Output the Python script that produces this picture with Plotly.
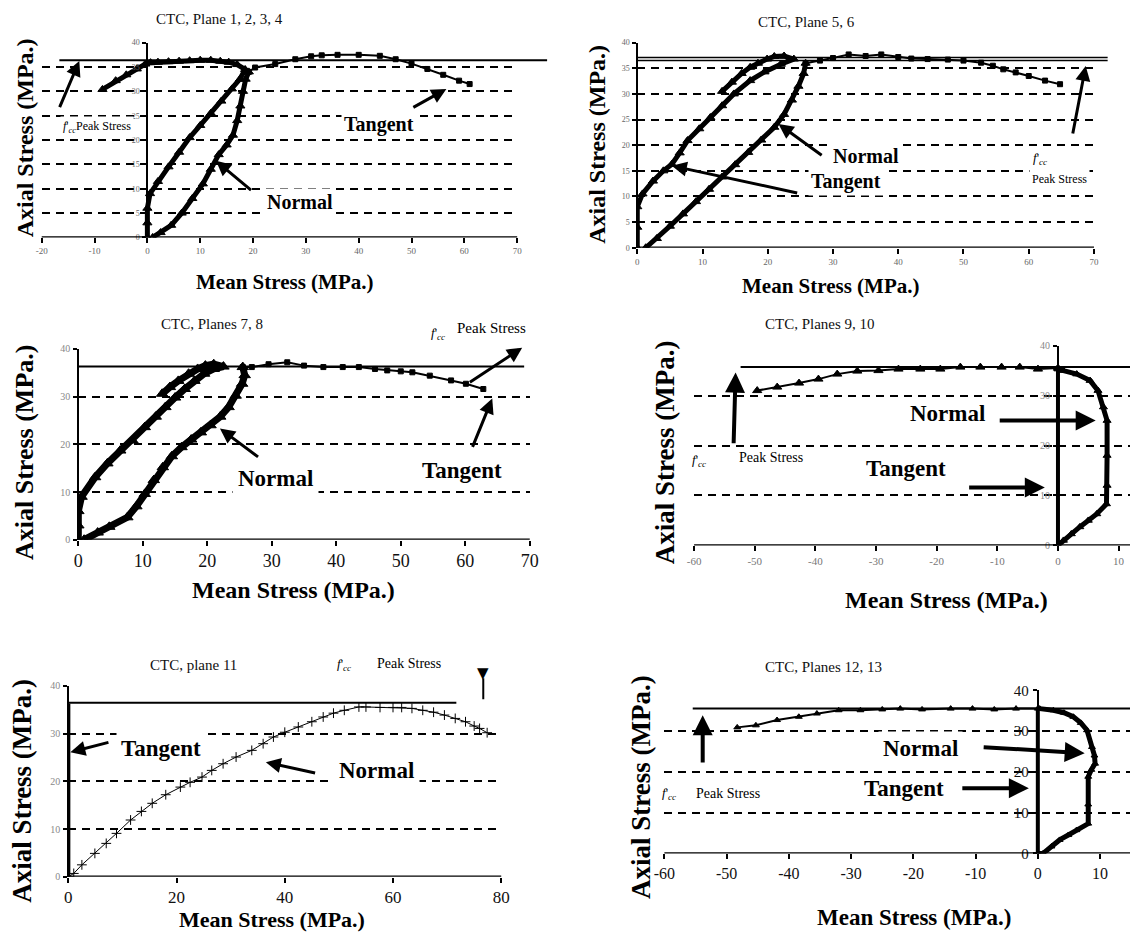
import plotly.graph_objects as go

# figure fills the window (body margin removed); photographed positions follow
# render = K * figure_px + B, so reference pixels are mapped back through it
WF, HF = 1139, 938
KX, BX = 0.985, 8.5
KY, BY = 0.984, 7.0
SERIF = "Liberation Serif"

# ---------------- data ----------------
peak = [36.4, 36.8, 36.3, 35.7, 36.5, 35.5]

# Panel 1 - CTC, Plane 1, 2, 3, 4
p1_tan_x = [0, 0, 0, 0.5, 2, 4, 6, 8, 10, 12, 14, 16, 17.5, 18.5, 17, 15.4, 13.8, 12, 10, 8, 6, 4, 2, 0.6, -0.4, -2, -4, -6, -8.5]
p1_tan_y = [0, 3, 6, 9, 11.5, 14.5, 17.5, 20.5, 23, 25.5, 28, 30.5, 32.5, 34.5, 35.5, 36, 36.2, 36.4, 36.4, 36.3, 36.2, 36.1, 36, 35.9, 35.6, 34.6, 33.4, 32.2, 30.4]
p1_nor_x = [1, 2.5, 4.5, 6.5, 8.5, 10.5, 12, 13.5, 15, 16.2, 17, 17.6, 18.1, 18.6, 19.2]
p1_nor_y = [0, 1, 2.5, 5, 8, 11, 14, 17, 19, 21, 24, 27, 30, 32.5, 34]
p1_post_x = [19.2, 20.4, 24.2, 28, 31, 33, 36, 40, 44, 47, 50, 53, 56, 59, 61]
p1_post_y = [34, 34.9, 35.6, 36.6, 37.2, 37.4, 37.5, 37.5, 37.3, 36.6, 35.7, 34.6, 33.4, 32.2, 31.5]

# Panel 2 - CTC, Plane 5, 6
p2_tan_x = [0, 0, 0, 0.8, 2.4, 4, 5.3, 6.5, 7.7, 9.5, 11.2, 13, 14.8, 17.3, 19.5, 22, 24, 22.5, 21, 19.9, 18.5, 17.3, 16, 14.5, 13]
p2_tan_y = [0, 4, 8, 10.5, 13, 15, 16.3, 18.5, 20.9, 23.2, 25.4, 27.7, 30, 32.6, 34.3, 35.8, 36.8, 37.4, 37.3, 36.8, 36, 35.2, 34, 32.3, 30.5]
p2_nor_x = [1.3, 3, 5, 7, 9, 11, 13, 15, 17, 19, 21, 22.5, 23.7, 24.7, 25.5, 25.8]
p2_nor_y = [0, 1.8, 4.2, 6.6, 9, 11.4, 13.8, 16.2, 18.6, 21, 23.5, 26, 28.8, 31.5, 34, 36]
p2_post_x = [25.8, 28, 30, 32.4, 35, 37.4, 40, 42, 44.5, 47.6, 50, 52.7, 54.5, 56.1, 58, 60, 62.5, 64.8]
p2_post_y = [36, 36.5, 37, 37.7, 37.4, 37.7, 37.2, 36.9, 36.8, 36.7, 36.5, 36.1, 35.5, 34.8, 34.2, 33.5, 32.6, 31.9]

# Panel 3 - CTC, Planes 7, 8
p3_tan_x = [0, 0, 0, 0.5, 2.6, 4.5, 6.5, 8.4, 10.3, 12, 13.5, 15, 16.5, 18, 19.5, 21, 22.5, 21, 19.7, 18.5, 17.1, 15.5, 14.2, 13]
p3_tan_y = [0, 3, 6, 9, 13.1, 16, 18.7, 20.8, 23.6, 25.8, 27.8, 29.8, 31.6, 33.3, 34.8, 35.8, 36.3, 36.8, 36.5, 35.8, 34.8, 33.3, 32, 30.6]
p3_nor_x = [0.9, 3, 4.8, 7.6, 9, 10.3, 11.7, 13.1, 14.5, 16, 17.5, 19, 20.5, 22, 23.3, 24.4, 25.4, 25.8, 25.5]
p3_nor_y = [0, 1.5, 2.7, 4.7, 7, 9.6, 12.5, 15.2, 17.5, 19.4, 21, 22.5, 24, 25.8, 27.8, 30.2, 32.7, 34.5, 36.2]
p3_post_x = [25.5, 26.9, 29.5, 32.4, 35, 38, 41, 43.5, 46, 47.9, 50, 51.8, 54.5, 57.8, 60.1, 62.8]
p3_post_y = [36.2, 36.2, 36.8, 37.2, 36.5, 36.2, 36.2, 36.2, 35.8, 35.5, 35.3, 35.1, 34.4, 33.4, 32.7, 31.6]

# Panel 4 - CTC, Planes 9, 10
p4_axis_x = [0, 0]
p4_axis_y = [0, 35.5]
p4_tan_x = [0, -3.3, -6.3, -9.3, -12.8, -16.1, -19.4, -22.7, -26.3, -29.6, -33.1, -36.4, -39.5, -42.7, -46.3, -49.6]
p4_tan_y = [35.5, 35.3, 35.7, 35.7, 35.7, 35.7, 35.3, 35.3, 35.3, 35, 34.9, 34.3, 33.3, 32.5, 31.7, 31]
p4_nor_x = [0, 0.9, 2.2, 3.6, 5, 6.4, 8, 8.1, 8.1, 8.1, 7.5, 6.6, 5.3, 3.1, 0.9, 0]
p4_nor_y = [0, 1, 2.3, 3.7, 5, 6.3, 8.3, 12, 18, 25, 27.7, 31, 33, 34.3, 35, 35.3]

# Panel 5 - CTC, plane 11
p5_axis_x = [0, 0]
p5_axis_y = [0, 36.3]
p5_nor_x = [0, 1, 2.5, 4.9, 7, 8.9, 11.5, 13.5, 15.5, 18, 20.7, 22.5, 24.7, 26.5, 28.6, 31, 33.9, 36, 37.9, 40, 42.5, 45, 47.1, 49, 51,
            53.7, 55, 57.6, 60, 61.6, 63.5, 65.5, 67.5, 69.5, 71.5, 73.4, 75, 76, 77.4]
p5_nor_y = [0, 0.7, 2.5, 4.9, 7, 9.1, 11.9, 13.7, 15.4, 17.2, 18.8, 19.8, 20.9, 22.3, 23.7, 25.1, 26.5, 27.9, 29.3, 30.3, 31.4, 32.5, 33.5, 34.3, 34.9,
            35.6, 35.6, 35.5, 35.5, 35.5, 35.3, 34.9, 34.5, 33.9, 33.2, 32.5, 31.6, 31.1, 30.2]

# Panel 6 - CTC, Planes 12, 13
p6_axis_x = [0, 0]
p6_axis_y = [0, 35.5]
p6_tan_x = [0, -3.5, -7, -10.5, -14, -18.6, -22.1, -25, -28.5, -32, -35.5, -38.4, -41.9, -45.3, -48.3]
p6_tan_y = [35.5, 35.5, 35.3, 35.5, 35.5, 35.3, 35.5, 35.3, 35.1, 35.1, 34.3, 33.5, 32.7, 31.4, 30.9]
p6_nor_x = [0, 0.85, 2.2, 3.5, 4.9, 6.2, 8.1, 8.1, 8.1, 8.6, 9.2, 9.1, 8.7, 7.9, 6.9, 5.7, 4.2, 2.5, 0.3]
p6_nor_y = [0, 0, 1.7, 3.3, 4.5, 5.7, 7.3, 12, 18.8, 20.5, 22, 24, 26.1, 30.2, 32, 33.5, 34.5, 35.1, 35.5]

titles = ["CTC, Plane 1, 2, 3, 4", "CTC, Plane 5, 6", "CTC, Planes 7, 8",
          "CTC, Planes 9, 10", "CTC, plane 11", "CTC, Planes 12, 13"]
x_title = "Mean Stress (MPa.)"
y_title = "Axial Stress (MPa.)"

x_ticks = [list(range(-20, 71, 10)), list(range(0, 71, 10)), list(range(0, 71, 10)),
           list(range(-60, 11, 10)), list(range(0, 81, 20)), list(range(-60, 11, 10))]
y_ticks = [list(range(0, 41, 5)), list(range(0, 41, 5)), list(range(0, 41, 10)),
           list(range(0, 41, 10)), list(range(0, 41, 10)), list(range(0, 41, 10))]

# ---------------- layout geometry (reference pixels) ----------------
panels = [
    dict(px=(39.3, 516), py=(41.7, 236.7), xr=(-20, 70)),
    dict(px=(636.4, 1094.3), py=(41.7, 247), xr=(0, 70)),
    dict(px=(76, 528.6), py=(348.3, 539.3), xr=(0, 70)),
    dict(px=(693.4, 1139), py=(345, 545), xr=(-60, -60 + (1139 - 693.4) / 6.08)),
    dict(px=(66, 500), py=(685.7, 876.7), xr=(0, 80)),
    dict(px=(663.6, 1139), py=(690, 853.3), xr=(-60, -60 + (1139 - 663.6) / 6.24)),
]
xtick_font = [(9, '#666'), (9, '#666'), (18, '#111'), (11, '#777'), (17, '#111'), (16, '#111')]
ytick_font = [(8, '#666'), (8, '#666'), (10, '#888'), (10, '#888'), (10, '#888'), (15, '#111')]


def cx(px):
    return (px - BX) / KX


def cy(py):
    return (py - BY) / KY


def PX(px):
    return cx(px) / WF


def PY(py):
    return 1 - cy(py) / HF


def inv_px(frac):
    return frac * WF * KX + BX


fig = go.Figure()


def sfx(i):
    return '' if i == 1 else str(i)


def tr(i, x, y, lw=3, sym='triangle-up', ms=7, mode='lines+markers'):
    fig.add_trace(go.Scatter(
        x=x, y=y, xaxis='x' + sfx(i), yaxis='y' + sfx(i), mode=mode,
        line=dict(color='black', width=lw),
        marker=dict(symbol=sym, size=ms, color='black', line=dict(color='black', width=1)),
        showlegend=False, hoverinfo='skip'))


tr(1, p1_tan_x, p1_tan_y, lw=5, ms=8)
tr(1, p1_nor_x, p1_nor_y, lw=5, ms=8)
tr(1, p1_post_x, p1_post_y, lw=2, sym='square', ms=5)

tr(2, p2_tan_x, p2_tan_y, lw=5, ms=8)
tr(2, p2_nor_x, p2_nor_y, lw=5, ms=8)
tr(2, p2_post_x, p2_post_y, lw=2, sym='square', ms=5)

tr(3, p3_tan_x, p3_tan_y, lw=7, ms=10)
tr(3, p3_nor_x, p3_nor_y, lw=7, ms=10)
tr(3, p3_post_x, p3_post_y, lw=2, sym='square', ms=5)

tr(4, p4_axis_x, p4_axis_y, lw=4, mode='lines')
tr(4, p4_tan_x, p4_tan_y, lw=2, ms=8)
tr(4, p4_nor_x, p4_nor_y, lw=5, ms=7)

tr(5, p5_axis_x, p5_axis_y, lw=4, mode='lines')
tr(5, p5_nor_x, p5_nor_y, lw=1, sym='cross-thin', ms=7)

tr(6, p6_axis_x, p6_axis_y, lw=4, mode='lines')
tr(6, p6_tan_x, p6_tan_y, lw=2, ms=6)
tr(6, p6_nor_x, p6_nor_y, lw=5, ms=6)

layout = dict(width=WF, height=HF, margin=dict(l=0, r=0, t=0, b=0), autosize=False,
              paper_bgcolor='white', plot_bgcolor='white', showlegend=False,
              font=dict(family=SERIF, color='black'))

shapes = []
for i, p in enumerate(panels, 1):
    s = sfx(i)
    x0, x1 = p['px']
    y0, y1 = p['py']
    xr0, xr1 = p['xr']
    scale = (x1 - x0) / (xr1 - xr0)
    d0, d1 = PX(x0), PX(x1)
    if d1 > 1:
        d1 = 1.0
        xr1 = xr0 + (inv_px(1.0) - x0) / scale
    zero_px = x0 + (0 - xr0) * scale
    xfs, xfc = xtick_font[i - 1]
    yfs, yfc = ytick_font[i - 1]
    layout['xaxis' + s] = dict(
        domain=[d0, d1], range=[xr0, xr1], anchor='y' + s,
        tickmode='array', tickvals=x_ticks[i - 1], ticktext=[str(v) for v in x_ticks[i - 1]],
        showline=False, ticks='outside', ticklen=5,
        tickwidth=1.5, tickcolor='black', showgrid=False, zeroline=False,
        tickfont=dict(family=SERIF, size=xfs, color=xfc))
    layout['yaxis' + s] = dict(
        domain=[PY(y1), PY(y0)], range=[0, 40], anchor='free', position=PX(zero_px),
        tickmode='array', tickvals=y_ticks[i - 1], ticktext=[str(v) for v in y_ticks[i - 1]],
        showline=True, linecolor='black', linewidth=2, ticks='outside', ticklen=4,
        tickwidth=1.5, tickcolor='black', showgrid=True, gridcolor='black', gridwidth=2.2,
        griddash='8px,6px', zeroline=False, ticklabelstandoff=1,
        tickfont=dict(family=SERIF, size=yfs, color=yfc))
    # solid base line at y = 0
    shapes.append(dict(type='line', xref='paper', yref='y' + s, x0=d0, x1=d1,
                       y0=0, y1=0, line=dict(color='black', width=2.5)))

annotations = []

# peak-stress reference lines (horizontal span in reference pixels)
peak_span = [(57, 546), (636, 1108), (76, 523), (740, 1139), (66, 455), (692, 1139)]
for i, (a, b) in enumerate(peak_span, 1):
    if i == 2:
        for dy in (-0.3, 0.3):
            shapes.append(dict(type='line', xref='paper', yref='y' + sfx(i), x0=PX(a), x1=min(PX(b), 1),
                               y0=peak[i - 1] + dy, y1=peak[i - 1] + dy, line=dict(color='black', width=1.5)))
    else:
        shapes.append(dict(type='line', xref='paper', yref='y' + sfx(i), x0=PX(a), x1=min(PX(b), 1),
                           y0=peak[i - 1], y1=peak[i - 1], line=dict(color='black', width=2)))


def txt(px, py, text, size, bold=False, angle=0, color='black', bg=None, family=SERIF, pad=2):
    annotations.append(dict(
        x=PX(px), y=PY(py), xref='paper', yref='paper',
        text=('<b>%s</b>' % text) if bold else text, showarrow=False,
        font=dict(family=family, size=size, color=color), textangle=angle,
        xanchor='center', yanchor='middle', bgcolor=bg, borderpad=pad))


def arrow(tail, head, width=3):
    annotations.append(dict(
        x=PX(head[0]), y=PY(head[1]), xref='paper', yref='paper',
        ax=cx(tail[0]) - cx(head[0]), ay=cy(tail[1]) - cy(head[1]), axref='pixel', ayref='pixel',
        text='', showarrow=True, arrowhead=2, arrowsize=1, arrowwidth=width, arrowcolor='black'))


fcc = "<i>f</i>'<sub><i>cc</i></sub>"

# titles
title_pos = [(218, 18), (806, 21), (210, 323), (820, 323), (191, 665), (823, 667)]
for (x, y), t in zip(title_pos, titles):
    txt(x, y, t, 15, color='#111')

# axis titles
xt_pos = [(283, 281, 21), (831, 285, 21), (292, 590, 24), (946, 600, 24), (270, 919, 22), (914, 917, 23)]
for x, y, s in xt_pos:
    txt(x, y, x_title, s, bold=True)
yt_pos = [(22, 137, 24), (596, 143, 24), (22, 452, 26), (664, 452, 27), (20, 790, 27), (640, 787, 27)]
for x, y, s in yt_pos:
    txt(x, y, y_title, s, bold=True, angle=-90)

# panel 1 labels
txt(377, 124, "Tangent", 20, bold=True, bg='white')
txt(298, 201, "Normal", 20, bold=True, bg='white')
txt(95, 126, fcc + "Peak Stress", 12, bg='white')
arrow((411, 107), (445, 88))
arrow((250, 190), (214, 160))
arrow((57, 107), (77, 60))

# panel 2 labels
txt(866, 155, "Normal", 20, bold=True, bg='white')
txt(846, 181, "Tangent", 20, bold=True, bg='white')
txt(1040, 158, fcc, 13)
txt(1060, 178, "Peak Stress", 12, bg='white')
arrow((822, 155), (778, 123))
arrow((796, 192), (671, 165))
arrow((1073, 133), (1086, 65))

# panel 3 labels
txt(274, 478, "Normal", 23, bold=True, bg='white', pad=5)
txt(461, 470, "Tangent", 23, bold=True, bg='white')
txt(437, 333, fcc, 13)
txt(490, 327, "Peak Stress", 15)
arrow((257, 457), (218, 428))
arrow((471, 447), (491, 398))
arrow((468, 382), (521, 347))

# panel 4 labels
txt(947, 413, "Normal", 23, bold=True, bg='white')
txt(906, 468, "Tangent", 23, bold=True, bg='white')
txt(698, 460, fcc, 13)
txt(770, 457, "Peak Stress", 14)
arrow((1000, 420), (1096, 420), width=4)
arrow((969, 487), (1045, 487), width=4)
arrow((733, 443), (735, 372), width=4)

# panel 5 labels
txt(159, 748, "Tangent", 23, bold=True, bg='white', pad=4)
txt(375, 770, "Normal", 23, bold=True, bg='white', pad=5)
txt(342, 664, fcc, 13)
txt(408, 663, "Peak Stress", 14)
arrow((107, 742), (68, 752))
arrow((314, 773), (264, 762))
txt(482, 673, "\u25BC", 15, family="DejaVu Sans")
shapes.append(dict(type='line', xref='paper', yref='paper', x0=PX(482), x1=PX(482),
                   y0=PY(678), y1=PY(699), line=dict(color='black', width=2)))

# panel 6 labels
txt(920, 748, "Normal", 23, bold=True, bg='white', pad=4)
txt(904, 788, "Tangent", 23, bold=True, bg='white')
txt(668, 793, fcc, 13)
txt(727, 793, "Peak Stress", 14, bg='white')
arrow((984, 747), (1085, 753), width=4)
arrow((962, 788), (1029, 788), width=4)
arrow((702, 763), (702, 715), width=4)

layout['shapes'] = shapes
layout['annotations'] = annotations
fig.update_layout(**layout)

fig.write_html("out.html", config={'displayModeBar': False},
               post_script="document.body.style.margin='0px';")
